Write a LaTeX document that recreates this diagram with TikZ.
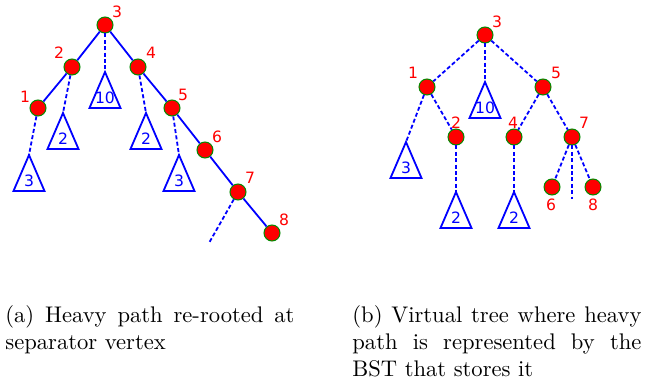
\documentclass[tikz,border=0pt]{standalone}
\usepackage{graphicx}
\usepackage{fontspec}
\newfontfamily\lblfont{DejaVu Sans}
\newcommand\subtree[3]{% name, apex, label
  \coordinate (#1) at (#2);
  \draw[tri] (#1) -- ++(-15.5,36) -- ++(31,0) -- cycle;
  \node[tnum] (#1-t) at ([yshift=-12.7pt]#1) {#3};}
% justified caption paragraph, set at 10pt and enlarged
\newcommand\captionpar[1]{\scalebox{1.13}{\parbox[t]{127.9pt}{\normalsize\parindent=0pt #1}}}
\begin{document}
\begin{tikzpicture}[x=0.5pt,y=-0.5pt,
  vert/.style={circle,fill=red,draw=green!55!black,line width=0.5pt,minimum size=8pt,inner sep=0pt},
  num/.style={text=red,font=\lblfont\fontsize{7.8}{9}\selectfont,inner sep=0pt},
  tnum/.style={text=blue,font=\lblfont\fontsize{7.8}{9}\selectfont,inner sep=0pt},
  heavy/.style={draw=blue,line width=0.9pt},
  light/.style={draw=blue,line width=0.9pt,dash pattern=on 2pt off 1.2pt},
  tri/.style={draw=blue,line width=0.9pt,line join=miter},
  captext/.style={inner sep=0pt,anchor=base west}]
\useasboundingbox (0,0) rectangle (652,379);

% ---- (a) heavy path re-rooted ----
\node[vert] (a3) at (105,25) {};
\node[vert] (a2) at (72,67) {};
\node[vert] (a4) at (138,67) {};
\node[vert] (a1) at (38,108) {};
\node[vert] (a5) at (172,108) {};
\node[vert] (a6) at (205,150) {};
\node[vert] (a7) at (238,192) {};
\node[vert] (a8) at (272,233) {};
\node[num] (la3) at (117,12) {3};
\node[num] (la2) at (59,53) {2};
\node[num] (la4) at (151,53) {4};
\node[num] (la1) at (25,97) {1};
\node[num] (la5) at (183,95) {5};
\node[num] (la6) at (217,137) {6};
\node[num] (la7) at (250,178) {7};
\node[num] (la8) at (284,220) {8};
\subtree{aT10}{105,72}{10}
\subtree{aT2a}{63,113}{2}
\subtree{aT3a}{29,155}{3}
\subtree{aT2b}{146,113}{2}
\subtree{aT3b}{179,155}{3}
\coordinate (aEnd) at (209,243);
\draw[heavy] (a3) -- (a2) -- (a1);
\draw[heavy] (a3) -- (a4) -- (a5) -- (a6) -- (a7) -- (a8);
\draw[light] (a3) -- (aT10);
\draw[light] (a2) -- (aT2a);
\draw[light] (a1) -- (aT3a);
\draw[light] (a4) -- (aT2b);
\draw[light] (a5) -- (aT3b);
\draw[light] (a7) -- (aEnd);

% ---- (b) virtual tree ----
\node[vert] (b3) at (485,35) {};
\node[vert] (b1) at (427,87) {};
\node[vert] (b5) at (543,87) {};
\node[vert] (b2) at (456,137) {};
\node[vert] (b4) at (514,137) {};
\node[vert] (b7) at (572,137) {};
\node[vert] (b6) at (552,187) {};
\node[vert] (b8) at (593,187) {};
\node[num] (lb3) at (497,22) {3};
\node[num] (lb1) at (413,73) {1};
\node[num] (lb5) at (556,73) {5};
\node[num] (lb2) at (456,123) {2};
\node[num] (lb4) at (513,123) {4};
\node[num] (lb7) at (584,123) {7};
\node[num] (lb6) at (551,205) {6};
\node[num] (lb8) at (593,205) {8};
\subtree{bT10}{485,82}{10}
\subtree{bT3}{406,142}{3}
\subtree{bT2a}{456,192}{2}
\subtree{bT2b}{514,192}{2}
\coordinate (bEnd) at (572,199);
\draw[light] (b3) -- (b1);
\draw[light] (b3) -- (bT10);
\draw[light] (b3) -- (b5);
\draw[light] (b1) -- (bT3);
\draw[light] (b1) -- (b2);
\draw[light] (b2) -- (bT2a);
\draw[light] (b5) -- (b4);
\draw[light] (b5) -- (b7);
\draw[light] (b4) -- (bT2b);
\draw[light] (b7) -- (b6);
\draw[light] (b7) -- (b8);
\draw[light] (b7) -- (bEnd);

% ---- captions ----
\node[captext] (capa) at (5,322) {\captionpar{(a) Heavy path re-rooted at separator vertex}};
\node[captext] (capb) at (352,322) {\captionpar{(b) Virtual tree where heavy path is represented by the BST that stores it}};
\end{tikzpicture}
\end{document}
